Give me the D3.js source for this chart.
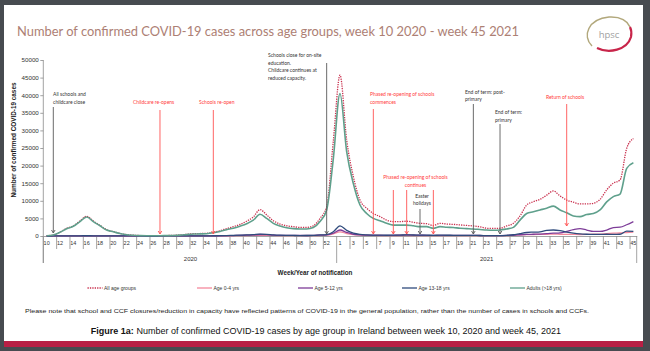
<!DOCTYPE html>
<html lang="en">
<head>
<meta charset="UTF-8">
<title>COVID-19 cases by age group, Ireland</title>
<script src="https://d3js.org/d3.v7.min.js"></script>
<style>
  body { margin: 0; background: #474b50; }
  svg { display: block; }
  .axis text { font-family: 'Liberation Sans', Arial, sans-serif; font-size: 5.5px; fill: #333; }
  .axis path, .axis line { stroke: #8c8c8c; stroke-width: 0.8; }
  .ann { font-family: Lato, 'Open Sans', sans-serif; font-size: 5px; }
  .leg { font-family: 'Liberation Sans', Arial, sans-serif; font-size: 5px; fill: #333; }
</style>
</head>
<body>
<svg width="650" height="351"></svg>
<script>
// categories: ISO weeks of notification
const weeks2020 = [10,11,12,13,14,15,16,17,18,19,20,21,22,23,24,25,26,27,28,29,30,31,32,33,34,35,36,37,38,39,40,41,42,43,44,45,46,47,48,49,50,51,52,53];
const weeks2021 = [1,2,3,4,5,6,7,8,9,10,11,12,13,14,15,16,17,18,19,20,21,22,23,24,25,26,27,28,29,30,31,32,33,34,35,36,37,38,39,40,41,42,43,44,45];

// series values (2020 wk10-53, then 2021 wk1-45)
const allAges = [60,300,1100,2150,2850,4250,5600,4250,3000,1780,1250,740,380,220,130,90,80,90,130,180,300,480,650,700,760,1050,1500,2100,2650,3300,4200,5400,7500,6000,4350,3400,2900,2650,2450,2450,2900,5000,8300,27000,
  45700,27300,16900,10200,7900,6400,5500,4500,4100,4100,4200,3900,3600,3500,2950,3600,3400,3300,3150,3000,2850,2600,2200,2150,2200,2850,3600,5700,8800,9750,10400,11600,12800,11400,10200,9600,9100,9100,9300,10400,13100,15000,15900,24900,27700];
const age0to4 = [2,5,10,15,20,25,30,25,20,15,10,8,5,4,3,3,3,3,5,8,10,15,20,25,30,35,40,60,80,110,140,170,220,200,150,110,90,80,80,80,100,160,230,600,
  1200,700,400,250,180,150,140,130,130,140,150,140,130,120,100,120,120,120,110,100,100,90,80,80,90,120,180,300,400,420,450,500,550,500,480,450,430,450,500,550,700,800,850,1000,1100];
const age5to12 = [3,10,20,30,40,50,60,50,40,30,20,15,10,8,6,5,5,6,8,10,15,20,25,30,35,45,60,90,130,180,240,300,430,380,260,190,170,160,150,140,160,250,300,800,
  1700,1000,500,300,230,200,200,180,200,240,300,260,220,200,160,200,200,190,180,170,160,140,110,100,110,150,220,350,450,500,550,650,800,900,1300,1800,2100,1700,1300,1300,1700,2400,2500,3200,4100];
const age13to18 = [3,10,25,40,50,60,70,60,50,40,30,20,15,10,8,6,6,8,12,18,25,35,45,50,55,70,80,120,180,250,300,400,550,480,330,230,180,150,130,140,170,300,400,1200,
  2900,1600,800,450,320,260,230,220,230,260,320,280,250,230,200,230,220,200,180,170,160,140,120,110,120,200,350,700,1000,1100,1200,1600,1700,1500,1100,800,600,500,450,450,500,450,500,1400,1300];
const adults = [55,280,1050,2050,2750,4100,5400,4100,2900,1700,1200,700,350,200,120,80,70,80,110,150,250,400,550,600,650,900,1300,1800,2200,2800,3500,4500,6200,5000,3600,2850,2350,2100,2000,2000,2400,4100,7400,22000,
  40500,24000,14900,8800,6400,5000,4350,3600,3100,3100,3100,2900,2650,2650,2200,2650,2500,2400,2200,2100,2000,1850,1700,1650,1700,2000,2450,4500,6400,6900,7400,7900,8500,7400,6600,5700,5500,6100,6400,7400,9700,11200,11900,19200,20800];

const seriesNames = ["All age groups", "Age 0-4 yrs", "Age 5-12 yrs", "Age 13-18 yrs", "Adults (>18 yrs)"];
const yTicks = [0,5000,10000,15000,20000,25000,30000,35000,40000,45000,50000];
const years = ["2020", "2021"];

// policy events: [year, week, text lines, kind]
const events = [
  [2020, 11, ["All schools and", "childcare close"], "close"],
  [2020, 27, ["Childcare re-opens"], "open"],
  [2020, 35, ["Schools re-open"], "open"],
  [2020, 52, ["Schools close for on-site", "education.", "Childcare continues at", "reduced capacity."], "close"],
  [2021, 6, ["Phased re-opening of schools", "commences"], "open"],
  [2021, 9, ["Phased re-opening of schools", "continues"], "open"],
  [2021, 11, [], "open"],
  [2021, 13, ["Easter", "holidays"], "close"],
  [2021, 15, [], "open"],
  [2021, 21, ["End of term: post-", "primary"], "close"],
  [2021, 25, ["End of term:", "primary"], "close"],
  [2021, 35, ["Return of schools"], "open"]
];

const cats = weeks2020.map(w => ({year: 2020, week: w})).concat(weeks2021.map(w => ({year: 2021, week: w})));
const catIndex = (yr, wk) => cats.findIndex(c => c.year === yr && c.week === wk);

const svg = d3.select("svg");
const plot = {left: 43.3, right: 636.7, top: 60, bottom: 236};

// slide background
svg.append("rect").attr("width", 650).attr("height", 351).attr("fill", "#474b50");
svg.append("rect").attr("x", 4).attr("y", 5).attr("width", 639).attr("height", 342).attr("fill", "#fff");
svg.append("rect").attr("x", 4).attr("y", 341).attr("width", 639).attr("height", 6).attr("fill", "#b81f45");

// title
svg.append("text")
  .attr("x", 17).attr("y", 36)
  .attr("textLength", 502).attr("lengthAdjust", "spacingAndGlyphs")
  .style("font-family", "Lato, 'Open Sans', sans-serif").style("font-size", "14px")
  .attr("fill", "#ad8074")
  .text("Number of confirmed COVID-19 cases across age groups, week 10 2020 - week 45 2021");

// hpsc logo
const logo = svg.append("g").attr("transform", "translate(607,34)");
logo.append("path").attr("d", "M-15,12 C-25,2 -19,-15 2,-17 C12,-17.5 20,-14 23,-7")
  .attr("fill", "none").attr("stroke", "#b2a87c").attr("stroke-width", 1.5);
logo.append("path").attr("d", "M-10,14 C2,20 20,16 24,3 C25,-2 24,-5 23,-7")
  .attr("fill", "none").attr("stroke", "#c8254a").attr("stroke-width", 2.2);
logo.append("text").attr("x", 2).attr("y", 4).attr("text-anchor", "middle")
  .style("font-family", "'Open Sans', sans-serif").style("font-size", "9.5px")
  .attr("fill", "#a0a0a0").text("hpsc");

const x = d3.scaleBand().domain(d3.range(cats.length)).range([plot.left, plot.right]).padding(0);
const cx = i => x(i) + x.bandwidth() / 2;
const y = d3.scaleLinear().domain([0, 50000]).range([plot.bottom, plot.top]);

// y axis
const yAxis = svg.append("g").attr("class", "axis")
  .attr("transform", `translate(${plot.left},0)`)
  .call(d3.axisLeft(y).tickValues(yTicks).tickSize(3).tickPadding(1.5).tickSizeOuter(0).tickFormat(d3.format("d")));
yAxis.select(".domain").remove();
yAxis.selectAll("text").style("font-size", "6.2px");
svg.append("line").attr("x1", plot.left).attr("x2", plot.left).attr("y1", plot.top).attr("y2", 263)
  .attr("stroke", "#8c8c8c").attr("stroke-width", 0.8);

svg.append("text")
  .attr("transform", "translate(16,140) rotate(-90)")
  .attr("text-anchor", "middle")
  .attr("textLength", 115).attr("lengthAdjust", "spacingAndGlyphs")
  .style("font-family", "'Liberation Sans', Arial, sans-serif").style("font-size", "6.3px").style("font-weight", "bold")
  .attr("fill", "#222")
  .text("Number of confirmed COVID-19 cases");

// x axis: labels every other week, tick marks every two categories
const labelIdx = cats.map((c, i) => i).filter(i => (cats[i].year === 2020 ? cats[i].week % 2 === 0 : cats[i].week % 2 === 1) && !(cats[i].year === 2020 && cats[i].week === 53));
const xAxis = svg.append("g").attr("class", "axis")
  .attr("transform", `translate(0,${plot.bottom})`)
  .call(d3.axisBottom(x).tickValues(labelIdx).tickSize(0).tickPadding(5).tickFormat(i => cats[i].week));
xAxis.select(".domain").attr("stroke", "#8c8c8c");

const tickBounds = d3.range(0, cats.length + 1, 2).map(i => i === cats.length ? plot.right : x(i));
tickBounds.push(plot.right);
const yearStart = x(catIndex(2021, 1));
svg.append("g").selectAll("line")
  .data(tickBounds)
  .join("line")
  .attr("x1", d => d).attr("x2", d => d)
  .attr("y1", plot.bottom)
  .attr("y2", d => (Math.abs(d - yearStart) < 0.1 || Math.abs(d - plot.right) < 0.1 || Math.abs(d - plot.left) < 0.1) ? 263 : 249)
  .attr("stroke", "#8c8c8c").attr("stroke-width", 0.8);

// year labels
svg.append("g").selectAll("text")
  .data(years)
  .join("text")
  .attr("x", (d, k) => k === 0 ? (plot.left + yearStart) / 2 + 0.5 : (yearStart + plot.right) / 2)
  .attr("y", 261)
  .attr("text-anchor", "middle")
  .style("font-family", "'Liberation Sans', Arial, sans-serif").style("font-size", "6px")
  .attr("fill", "#333")
  .text(d => d);

svg.append("text")
  .attr("x", 315).attr("y", 275)
  .attr("text-anchor", "middle")
  .style("font-family", "'Liberation Sans', Arial, sans-serif").style("font-size", "6.3px").style("font-weight", "bold")
  .attr("fill", "#222")
  .text("Week/Year of notification");

// lines
const series = [
  {name: seriesNames[0], values: allAges, color: "#c9304e", dash: "1.3,1.1", width: 1.3},
  {name: seriesNames[1], values: age0to4, color: "#f4899c", dash: null, width: 1.3},
  {name: seriesNames[2], values: age5to12, color: "#7d3c98", dash: null, width: 1.3},
  {name: seriesNames[3], values: age13to18, color: "#2f4b7c", dash: null, width: 1.3},
  {name: seriesNames[4], values: adults, color: "#5fa08c", dash: null, width: 1.6}
];

const line = d3.line()
  .x((d, i) => cx(i))
  .y(d => y(d))
  .curve(d3.curveMonotoneX);

svg.append("g").selectAll("path")
  .data(series)
  .join("path")
  .attr("d", d => line(d.values))
  .attr("fill", "none")
  .attr("stroke", d => d.color)
  .attr("stroke-width", d => d.width)
  .attr("stroke-dasharray", d => d.dash);

// annotations
const annLayout = [
  {tx: 53, ty: 96, anchor: "start", y1: 107, y2: 233},
  {tx: 133, ty: 104, anchor: "start", y1: 110, y2: 234},
  {tx: 199, ty: 104, anchor: "start", y1: 110, y2: 234},
  {tx: 268, ty: 57, anchor: "start", y1: 63, y2: 234},
  {tx: 370, ty: 96, anchor: "start", y1: 109, y2: 234},
  {tx: 415.5, ty: 179, anchor: "middle", y1: 190, y2: 234},
  {tx: 0, ty: 0, anchor: "start", y1: 190, y2: 234},
  {tx: 422, ty: 197.5, anchor: "middle", y1: 209, y2: 234},
  {tx: 0, ty: 0, anchor: "start", y1: 190, y2: 234},
  {tx: 465, ty: 93.5, anchor: "start", y1: 104, y2: 234},
  {tx: 495, ty: 114, anchor: "start", y1: 124, y2: 234},
  {tx: 546, ty: 99, anchor: "start", y1: 104, y2: 226}
];
const annColor = {open: "#ff3b3b", close: "#333"};
const arrowColor = {open: "#ff5252", close: "#5a5a5a"};

events.forEach((e, k) => {
  const L = annLayout[k];
  const ax = cx(catIndex(e[0], e[1]));
  const g = svg.append("g");
  g.append("line").attr("x1", ax).attr("x2", ax).attr("y1", L.y1).attr("y2", L.y2)
    .attr("stroke", arrowColor[e[3]]).attr("stroke-width", 0.9);
  g.append("path").attr("d", `M${ax - 1.8},${L.y2 - 3} L${ax},${L.y2} L${ax + 1.8},${L.y2 - 3}`)
    .attr("fill", "none").attr("stroke", arrowColor[e[3]]).attr("stroke-width", 0.9);
  if (e[2].length) {
    const t = g.append("text").attr("class", "ann")
      .attr("text-anchor", L.anchor)
      .attr("fill", annColor[e[3]]);
    e[2].forEach((s, j) => {
      t.append("tspan").attr("x", L.tx).attr("y", L.ty + j * 7.6).text(s);
    });
  }
});

// legend
const legendX = [87.5, 197, 298, 402, 510];
const lg = svg.append("g").selectAll("g")
  .data(series)
  .join("g")
  .attr("transform", (d, i) => `translate(${legendX[i]},288)`);
lg.append("line").attr("x1", 0).attr("x2", 15).attr("y1", 0).attr("y2", 0)
  .attr("stroke", d => d.color).attr("stroke-width", 1.3)
  .attr("stroke-dasharray", d => d.dash);
lg.append("text").attr("class", "leg").attr("x", 16.5).attr("y", 1.8).text(d => d.name);

// note and caption
svg.append("text")
  .attr("x", 25).attr("y", 313)
  .attr("textLength", 564).attr("lengthAdjust", "spacingAndGlyphs")
  .style("font-family", "'Liberation Sans', Arial, sans-serif").style("font-size", "6px")
  .attr("fill", "#222")
  .text("Please note that school and CCF closures/reduction in capacity have  reflected patterns of COVID-19 in the general population, rather than the number of cases in schools and CCFs.");

const cap = svg.append("text")
  .attr("x", 326).attr("y", 334)
  .attr("text-anchor", "middle")
  .style("font-family", "'Liberation Sans', Arial, sans-serif").style("font-size", "9px")
  .attr("fill", "#111");
cap.append("tspan").style("font-weight", "bold").text("Figure 1a:");
cap.append("tspan").text(" Number of confirmed COVID-19 cases by age group in Ireland between week 10, 2020 and week 45, 2021");
</script>
</body>
</html>
